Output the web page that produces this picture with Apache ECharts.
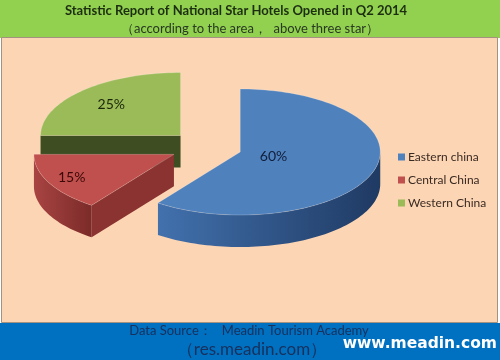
<!DOCTYPE html>
<html>
<head>
<meta charset="utf-8">
<script src="https://cdn.jsdelivr.net/npm/echarts@6/dist/echarts.min.js"></script>
<style>html,body{margin:0;padding:0;background:#fff}#c{width:500px;height:360px}</style>
</head>
<body>
<div id="c"></div>
<script>
const categories = ['Eastern china', 'Central China', 'Western China'];
const shares = [60, 15, 25];
const titleText = 'Statistic Report of National Star Hotels Opened in Q2 2014';
const subtitleText = '（according to the area，  above three star）';
const sourceLine1 = 'Data Source：   Meadin Tourism Academy';
const sourceLine2 = '（res.meadin.com）';
const siteText = 'www.meadin.com';

const topColors = ['#4F81BD', '#C0504D', '#9BBB59'];
const wallColors = [['#4271ad', '#1f3a63'], ['#a84442', '#7b2b29'], ['#6f8a3a', '#4d6128']];
const radialColors = ['#2c4d7e', '#8a3331', '#3f4e22'];
const labelColors = ['#0f1e3a', '#3a0808', '#1a2608'];
const labelRadius = [0.25, 0.82, 0.7];

const CX = 206, CY = 147, RX = 140, RY = 63, DEPTH = 32, EXPLODE = 36;
const total = shares.reduce((a, b) => a + b, 0);

function makeRender(i) {
  return function (params, api) {
    const val = api.value(0);
    let start = 0;
    for (let j = 0; j < i; j++) start += shares[j];
    const a0 = start / total * Math.PI * 2;
    const a1 = (start + val) / total * Math.PI * 2;
    const mid = (a0 + a1) / 2;
    const cx = CX + EXPLODE * Math.sin(mid);
    const cy = CY - EXPLODE * Math.cos(mid) * RY / RX;
    const P = (t, dz) => [cx + RX * Math.sin(t), cy - RY * Math.cos(t) + (dz || 0)];
    const arc = (s, e, dz) => {
      const pts = [];
      const n = Math.max(8, Math.ceil((e - s) / 0.03));
      for (let k = 0; k <= n; k++) pts.push(P(s + (e - s) * k / n, dz));
      return pts;
    };
    const children = [];
    const apex = [cx, cy], apexD = [cx, cy + DEPTH];
    const wall = (t) => ({
      type: 'polygon', z2: 1,
      shape: { points: [apex, P(t), P(t, DEPTH), apexD] },
      style: { fill: radialColors[i] }
    });
    if (Math.sin(a0) < -1e-6) children.push(wall(a0));
    if (Math.sin(a1) > 1e-6) children.push(wall(a1));
    const b0 = Math.max(a0, Math.PI / 2), b1 = Math.min(a1, Math.PI * 1.5);
    if (b1 > b0) {
      const pts = arc(b0, b1, 0).concat(arc(b0, b1, DEPTH).reverse());
      children.push({
        type: 'polygon', z2: 2,
        shape: { points: pts },
        style: {
          fill: { type: 'linear', x: 0, y: 0, x2: 1, y2: 0, colorStops: [
            { offset: 0, color: wallColors[i][0] }, { offset: 1, color: wallColors[i][1] }] }
        }
      });
    }
    const topPts = [apex].concat(arc(a0, a1, 0));
    children.push({
      type: 'polygon', z2: 3,
      shape: { points: topPts },
      style: { fill: topColors[i], stroke: 'rgba(255,255,255,0.25)', lineWidth: 0.8 }
    });
    const f = labelRadius[i];
    children.push({
      type: 'text', z2: 4,
      style: {
        text: Math.round(val / total * 100) + '%',
        x: cx + RX * f * Math.sin(mid),
        y: cy - RY * f * Math.cos(mid),
        align: 'center', verticalAlign: 'middle',
        fill: labelColors[i],
        font: '14px Lato, "Open Sans", sans-serif'
      }
    });
    return { type: 'group', children: children };
  };
}

const zOrder = [4, 3, 2];
const series = categories.map((name, i) => ({
  type: 'custom',
  name: name,
  coordinateSystem: 'none',
  z: zOrder[i],
  itemStyle: { color: topColors[i] },
  data: [[shares[i]]],
  renderItem: makeRender(i),
  animation: false
}));

const chart = echarts.init(document.getElementById('c'));
chart.setOption({
  animation: false,
  graphic: [
    { type: 'rect', z: 0, shape: { x: 0, y: 0, width: 500, height: 38 }, style: { fill: '#92D050' } },
    { type: 'rect', z: 0, shape: { x: 1.5, y: 37.5, width: 496, height: 285 }, style: { fill: '#FCD5B4', stroke: '#a5917f', lineWidth: 1 } },
    { type: 'rect', z: 0, shape: { x: 0, y: 323, width: 500, height: 37 }, style: { fill: '#0070C0' } },
    { type: 'text', z: 5, style: { text: titleText, x: 236, y: 11, align: 'center', verticalAlign: 'middle', fill: '#1c2e10', font: 'bold 13px Lato, sans-serif' } },
    { type: 'text', z: 5, style: { text: subtitleText, x: 250, y: 29, align: 'center', verticalAlign: 'middle', fill: '#283a22', font: '13px Lato, sans-serif' } },
    { type: 'text', z: 5, style: { text: sourceLine1, x: 249, y: 331, align: 'center', verticalAlign: 'middle', fill: '#17305c', font: '13px Lato, sans-serif' } },
    { type: 'text', z: 5, style: { text: sourceLine2, x: 252, y: 350, align: 'center', verticalAlign: 'middle', fill: '#17305c', font: '17px Lato, sans-serif' } },
    { type: 'text', z: 5, style: { text: siteText, x: 497, y: 344, align: 'right', verticalAlign: 'middle', fill: '#ffffff', font: 'bold 15.5px "DejaVu Sans", Verdana, sans-serif' } }
  ],
  legend: {
    orient: 'vertical',
    left: 393, top: 146,
    icon: 'rect', itemWidth: 7, itemHeight: 7, itemGap: 11,
    selectedMode: false,
    data: categories,
    textStyle: { color: '#3a2a22', fontSize: 12, fontFamily: 'Lato, sans-serif', padding: [0, 0, 0, -2] }
  },
  series: series
});
</script>
</body>
</html>
